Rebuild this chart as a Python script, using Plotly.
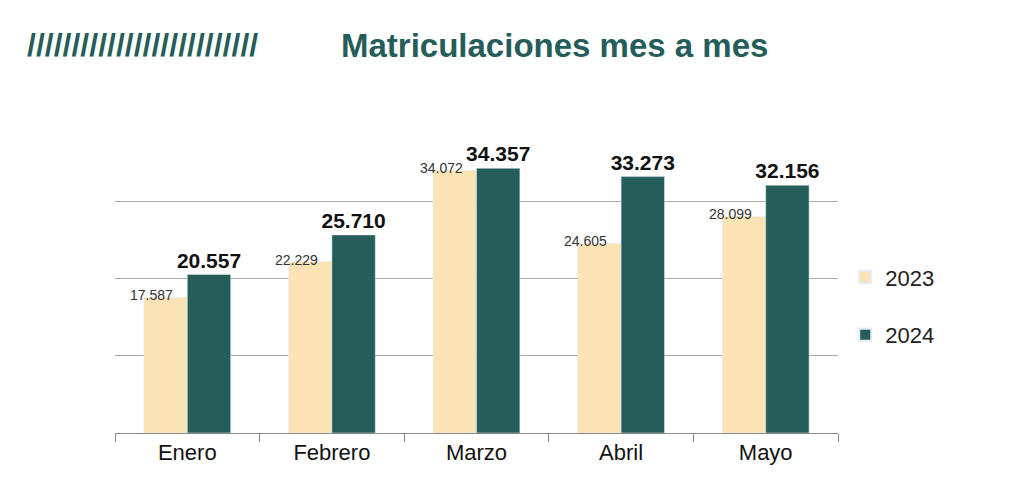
import plotly.graph_objects as go

meses = ["Enero", "Febrero", "Marzo", "Abril", "Mayo"]
v2023 = [17587, 22229, 34072, 24605, 28099]
v2024 = [20557, 25710, 34357, 33273, 32156]
lab2023 = ["17.587", "22.229", "34.072", "24.605", "28.099"]
lab2024 = ["20.557", "25.710", "34.357", "33.273", "32.156"]

c23 = "#fbe3b5"
c24 = "#245d5a"

fig = go.Figure()
fig.add_trace(go.Bar(x=meses, y=v2023, name="2023", marker_color=c23, offsetgroup="a", legendgroup="a"))
fig.add_trace(go.Bar(x=meses, y=v2024, name="2024", marker_color=c24, offsetgroup="b", legendgroup="b",
                     text=lab2024, textposition="outside", cliponaxis=False, constraintext="none",
                     texttemplate="<b>%{text}</b>",
                     textfont=dict(size=21, color="#111", family="Liberation Sans")))

for m, v, t in zip(meses, v2023, lab2023):
    fig.add_annotation(x=m, y=v, text=t, showarrow=False, xanchor="right", yanchor="bottom",
                       xshift=-12, yshift=-8, font=dict(size=14, color="#333", family="Liberation Sans"))

fig.add_annotation(xref="paper", yref="paper", x=-0.125, y=1.255, xanchor="left", yanchor="middle",
                   text="<b>//////////////////////////</b>", showarrow=False,
                   font=dict(size=32, color=c24, family="Liberation Sans"))
fig.add_annotation(xref="paper", yref="paper", x=0.31, y=1.255, xanchor="left", yanchor="middle",
                   text="<b>Matriculaciones mes a mes</b>", showarrow=False,
                   font=dict(size=33, color=c24, family="Liberation Sans"))

fig.update_layout(
    width=1024, height=497, paper_bgcolor="white", plot_bgcolor="white",
    margin=dict(l=107, r=194, t=116, b=72),
    barmode="group", bargap=0.40, bargroupgap=0,
    showlegend=True,
    legend=dict(x=1.01, y=0.41, xanchor="left", yanchor="middle",
                font=dict(size=22, color="#222", family="Liberation Sans"),
                itemsizing="constant", tracegroupgap=26),
    xaxis=dict(showline=True, linecolor="#888", ticks="outside", tickson="boundaries",
               tickcolor="#888", ticklen=8, tickfont=dict(size=22, color="#111", family="Liberation Sans")),
    yaxis=dict(range=[0, 40100], dtick=10000, showgrid=True, gridcolor="#aaa",
               showticklabels=False, zeroline=False),
)
fig.write_html("out.html")
